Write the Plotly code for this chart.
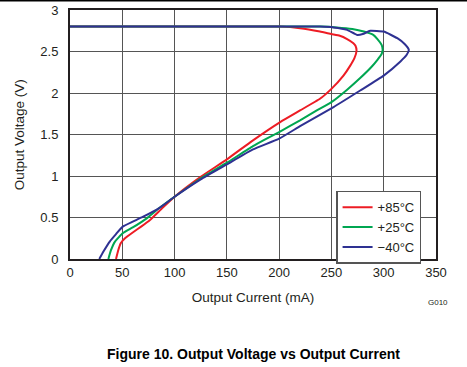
import plotly.graph_objects as go

# Data (current in mA, voltage in V)
red_current = [44, 46, 48.5, 52.6, 60, 68, 76.5, 88, 100, 125, 150, 175, 201, 220, 239, 250, 261.5, 268, 272, 274, 273, 271, 265, 258, 250, 239, 220, 201, 150, 100, 50, 0]
red_voltage = [0, 0.10, 0.19, 0.25, 0.32, 0.39, 0.47, 0.61, 0.75, 0.99, 1.20, 1.43, 1.65, 1.79, 1.93, 2.05, 2.21, 2.33, 2.42, 2.51, 2.57, 2.60, 2.65, 2.69, 2.71, 2.74, 2.78, 2.80, 2.80, 2.80, 2.80, 2.80]

green_current = [36.7, 39, 43, 50.4, 60, 73.4, 86, 100, 125, 150, 175, 188, 200, 220, 236, 250, 265, 277.5, 288, 294, 298, 299, 298, 294, 290, 281, 270, 255, 240, 150, 50, 0]
green_voltage = [0, 0.10, 0.21, 0.31, 0.38, 0.49, 0.62, 0.75, 0.97, 1.16, 1.36, 1.45, 1.53, 1.67, 1.79, 1.89, 2.04, 2.18, 2.31, 2.40, 2.47, 2.52, 2.58, 2.65, 2.70, 2.74, 2.77, 2.79, 2.80, 2.80, 2.80, 2.80]

blue_current = [28, 32, 38, 44, 50.4, 60, 70, 86, 100, 125, 150, 175, 200, 220, 252, 277.5, 300, 316, 322, 324, 320, 313, 300, 287, 280, 274.5, 265, 252, 239, 150, 50, 0]
blue_voltage = [0, 0.09, 0.21, 0.30, 0.39, 0.45, 0.51, 0.62, 0.75, 0.96, 1.14, 1.32, 1.45, 1.60, 1.83, 2.03, 2.21, 2.38, 2.46, 2.52, 2.59, 2.66, 2.74, 2.75, 2.71, 2.70, 2.76, 2.79, 2.80, 2.80, 2.80, 2.80]

series_names = ["+85°C", "+25°C", "\u221240°C"]
series_colors = ["#ed1c24", "#00a651", "#2e3192"]

x_ticks = [0, 50, 100, 150, 200, 250, 300, 350]
y_ticks = [0, 0.5, 1, 1.5, 2, 2.5, 3]

FONT = "Liberation Sans, Arial, sans-serif"
TXT = "#231f20"

fig = go.Figure()
for cur, vol, name, col in zip(
    [red_current, green_current, blue_current],
    [red_voltage, green_voltage, blue_voltage],
    series_names, series_colors):
    fig.add_trace(go.Scatter(
        x=cur, y=vol, mode="lines", name=name,
        line=dict(color=col, width=2, shape="spline", smoothing=0.4),
    ))

axis_common = dict(
    showgrid=True, gridcolor="#555555", gridwidth=1.2,
    showline=True, linecolor="#231f20", linewidth=2, mirror=True,
    zeroline=False, ticks="", tickfont=dict(family=FONT, size=13, color=TXT),
)

fig.update_xaxes(
    range=[0, 350], tickvals=x_ticks,
    title=dict(text="Output Current (mA)", font=dict(family=FONT, size=13.5, color=TXT), standoff=14),
    **axis_common)
fig.update_yaxes(
    range=[0, 3], tickvals=y_ticks, ticklabelstandoff=7,
    **axis_common)

fig.update_layout(
    width=467, height=367,
    margin=dict(l=70, r=31, t=10, b=108, autoexpand=False),
    paper_bgcolor="white", plot_bgcolor="white",
    showlegend=True,
    legend=dict(
        x=0.727, y=0.274, xanchor="left", yanchor="top",
        bgcolor="white", bordercolor="#555555", borderwidth=1.5,
        font=dict(family=FONT, size=13, color=TXT),
        itemwidth=30, tracegroupgap=0,
    ),
    annotations=[
        dict(text="Output Voltage (V)", xref="paper", yref="paper",
             x=-0.137, y=0.5, xanchor="center", yanchor="middle",
             textangle=-90, showarrow=False,
             font=dict(family=FONT, size=13.5, color=TXT)),
        dict(text="<b>Figure 10. Output Voltage vs Output Current</b>",
             xref="paper", yref="paper", x=0.5, y=-0.38,
             xanchor="center", yanchor="middle", showarrow=False,
             font=dict(family=FONT, size=14, color="#000000")),
        dict(text="G010", xref="paper", yref="paper", x=1.005, y=-0.175,
             xanchor="center", yanchor="middle", showarrow=False,
             font=dict(family=FONT, size=8, color=TXT)),
    ],
    shapes=[
        dict(type="line", xref="paper", yref="paper", x0=-0.2, x1=1.2, y0=1.037, y1=1.037,
             line=dict(color="#000000", width=1.5)),
    ],
)

fig.write_html(
    "out.html",
    config={"displayModeBar": False},
    post_script="document.body.style.margin='0';document.body.style.overflow='hidden';",
)
